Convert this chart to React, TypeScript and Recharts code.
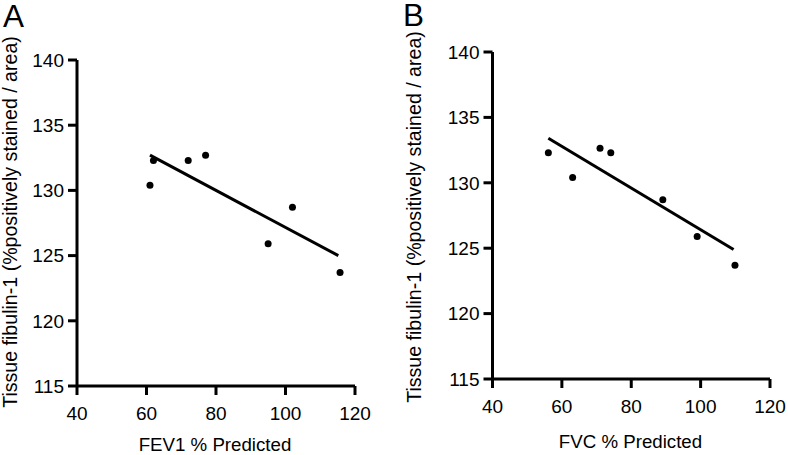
import React from 'react'
import { ScatterChart, Scatter, XAxis, YAxis, ReferenceLine, Label } from 'recharts'

// patient values (same tissue fibulin-1 in both panels)
const fev1Predicted = [61, 62, 72, 77, 95, 102, 115.7]
const fev1Fibulin = [130.4, 132.3, 132.3, 132.7, 125.9, 128.7, 123.7]
const fvcPredicted = [56.1, 63.1, 71, 74.1, 89.1, 99, 109.9]
const fvcFibulin = [132.3, 130.4, 132.65, 132.3, 128.7, 125.9, 123.7]

// regression line end points [x, y]
const fev1Fit = [
  [61, 132.7],
  [115.2, 125.0],
]
const fvcFit = [
  [56.1, 133.4],
  [109.5, 124.9],
]

const xTicks = [40, 60, 80, 100, 120]
const yTicks = [115, 120, 125, 130, 135, 140]
const yTitle = 'Tissue fibulin-1 (%positively stained / area)'

const FONT = '"Liberation Sans", Arial, Helvetica, sans-serif'

type PanelProps = {
  left: number
  xs: number[]
  ys: number[]
  fit: number[][]
  xTitle: string
  margin: { top: number; right: number; bottom: number; left: number }
  yAxisWidth: number
  xAxisHeight: number
  xTitleX: number
  xTitleBaseline: number
  yTitleX: number
  yTitleY: number
}

function Dot(props: any) {
  return <circle cx={props.cx} cy={props.cy} r={3.5} fill="#000" />
}

function XTick(props: any) {
  return (
    <text x={props.x} y={props.y} dy="0.71em" textAnchor="middle" fontSize={19} fill="#000">
      {props.payload.value}
    </text>
  )
}

function YTick(props: any) {
  return (
    <text x={props.x} y={props.y} dy="0.355em" textAnchor="end" fontSize={19} fill="#000">
      {props.payload.value}
    </text>
  )
}

function Panel(p: PanelProps) {
  const data = p.xs.map((x, i) => ({ x, y: p.ys[i] }))
  return (
    <div style={{ position: 'absolute', left: p.left, top: 0 }}>
      <ScatterChart width={394} height={455} margin={p.margin}>
        <XAxis
          type="number"
          dataKey="x"
          domain={[40, 120]}
          ticks={xTicks}
          interval={0}
          stroke="#000"
          strokeWidth={3}
          tickSize={9}
          tickMargin={12}
          tick={XTick}
          height={p.xAxisHeight}
        >
          <Label
            content={() => (
              <text x={p.xTitleX} y={p.xTitleBaseline} textAnchor="middle" fontSize={18.7} fill="#000">
                {p.xTitle}
              </text>
            )}
          />
        </XAxis>
        <YAxis
          type="number"
          dataKey="y"
          domain={[115, 140]}
          ticks={yTicks}
          interval={0}
          stroke="#000"
          strokeWidth={3}
          tickSize={9}
          tickMargin={4}
          tick={YTick}
          width={p.yAxisWidth}
        >
          <Label
            content={() => (
              <text
                x={p.yTitleX}
                y={p.yTitleY}
                textAnchor="middle"
                fontSize={19.6}
                fill="#000"
                transform={`rotate(-90, ${p.yTitleX}, ${p.yTitleY})`}
              >
                {yTitle}
              </text>
            )}
          />
        </YAxis>
        <ReferenceLine
          segment={[
            { x: p.fit[0][0], y: p.fit[0][1] },
            { x: p.fit[1][0], y: p.fit[1][1] },
          ]}
          stroke="#000"
          strokeWidth={3}
        />
        <Scatter data={data} fill="#000" shape={Dot} isAnimationActive={false} />
      </ScatterChart>
    </div>
  )
}

export default function App() {
  return (
    <div
      style={{
        position: 'absolute',
        left: 0,
        top: 0,
        width: 788,
        height: 455,
        background: '#fff',
        fontFamily: FONT,
      }}
    >
      <Panel
        left={0}
        xs={fev1Predicted}
        ys={fev1Fibulin}
        fit={fev1Fit}
        xTitle="FEV1 % Predicted"
        margin={{ top: 60, right: 39, bottom: 0, left: 0 }}
        yAxisWidth={77}
        xAxisHeight={69}
        xTitleX={215}
        xTitleBaseline={451}
        yTitleX={17}
        yTitleY={222}
      />
      <Panel
        left={394}
        xs={fvcPredicted}
        ys={fvcFibulin}
        fit={fvcFit}
        xTitle="FVC % Predicted"
        margin={{ top: 52, right: 18, bottom: 0, left: 0 }}
        yAxisWidth={98.5}
        xAxisHeight={76}
        xTitleX={236.5}
        xTitleBaseline={448}
        yTitleX={27}
        yTitleY={217}
      />
      <svg width={788} height={455} style={{ position: 'absolute', left: 0, top: 0, pointerEvents: 'none' }}>
        <text x={3} y={27} fontSize={31.5} fill="#000">A</text>
        <text x={403} y={26} fontSize={31.5} fill="#000">B</text>
      </svg>
    </div>
  )
}
